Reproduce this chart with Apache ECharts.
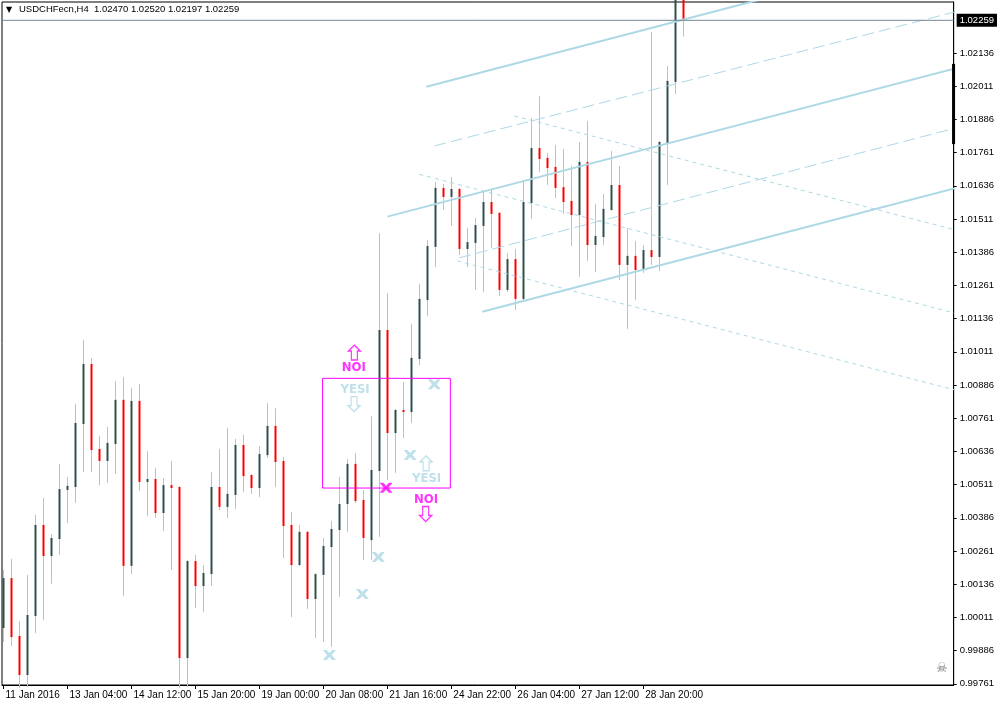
<!DOCTYPE html>
<html><head><meta charset="utf-8">
<script src="https://cdn.jsdelivr.net/npm/echarts@6/dist/echarts.min.js"></script>
<style>html,body{margin:0;padding:0;background:#fff}#c{width:997px;height:706px}</style>
</head><body><div id="c"></div>
<script>
const symbolName = 'USDCHFecn,H4';
const times = ['11 Jan 20:00','12 Jan 00:00','12 Jan 04:00','12 Jan 08:00','12 Jan 12:00','12 Jan 16:00','12 Jan 20:00','13 Jan 00:00',
'13 Jan 04:00','13 Jan 08:00','13 Jan 12:00','13 Jan 16:00','13 Jan 20:00','14 Jan 00:00','14 Jan 04:00','14 Jan 08:00',
'14 Jan 12:00','14 Jan 16:00','14 Jan 20:00','15 Jan 00:00','15 Jan 04:00','15 Jan 08:00','15 Jan 12:00','15 Jan 16:00',
'15 Jan 20:00','17 Jan 22:00','18 Jan 00:00','18 Jan 04:00','18 Jan 08:00','18 Jan 12:00','18 Jan 16:00','18 Jan 20:00',
'19 Jan 00:00','19 Jan 04:00','19 Jan 08:00','19 Jan 12:00','19 Jan 16:00','19 Jan 20:00','20 Jan 00:00','20 Jan 04:00',
'20 Jan 08:00','20 Jan 12:00','20 Jan 16:00','20 Jan 20:00','21 Jan 00:00','21 Jan 04:00','21 Jan 08:00','21 Jan 12:00',
'21 Jan 16:00','21 Jan 20:00','22 Jan 00:00','22 Jan 04:00','22 Jan 08:00','22 Jan 12:00','22 Jan 16:00','22 Jan 20:00',
'24 Jan 22:00','25 Jan 00:00','25 Jan 04:00','25 Jan 08:00','25 Jan 12:00','25 Jan 16:00','25 Jan 20:00','26 Jan 00:00',
'26 Jan 04:00','26 Jan 08:00','26 Jan 12:00','26 Jan 16:00','26 Jan 20:00','27 Jan 00:00','27 Jan 04:00','27 Jan 08:00',
'27 Jan 12:00','27 Jan 16:00','27 Jan 20:00','28 Jan 00:00','28 Jan 04:00','28 Jan 08:00','28 Jan 12:00','28 Jan 16:00',
'28 Jan 20:00','29 Jan 00:00','29 Jan 04:00','29 Jan 08:00','29 Jan 12:00','29 Jan 16:00'];
const open  = [0.99971,1.00159,0.99941,0.99794,1.00016,1.00359,1.00242,1.00306,1.00491,1.00502,1.00739,1.00965,1.00645,1.00600,1.00664,1.00830,
1.00205,1.00826,1.00521,1.00532,1.00404,1.00509,1.00502,0.99858,1.00223,1.00129,1.00174,1.00502,1.00427,1.00472,1.00660,1.00547,
1.00498,1.00622,1.00732,1.00600,1.00359,1.00208,1.00333,1.00080,1.00171,1.00276,1.00340,1.00438,1.00589,1.00453,1.00302,1.00562,
1.01093,1.00705,1.00792,1.00784,1.00984,1.01206,1.01406,1.01628,1.01594,1.01624,1.01398,1.01421,1.01485,1.01575,1.01534,1.01244,
1.01360,1.01210,1.01571,1.01778,1.01741,1.01707,1.01631,1.01579,1.01526,1.01726,1.01413,1.01443,1.01545,1.01639,1.01338,1.01372,
1.01319,1.01394,1.01368,1.01797,1.02027,1.02470];
const high  = [1.00189,1.00231,0.99997,1.00171,1.00397,1.00461,1.00325,1.00589,1.00540,1.00814,1.01055,1.00988,1.00694,1.00728,1.00901,1.00916,
1.00875,1.00890,1.00637,1.00573,1.00536,1.00600,1.00506,1.00227,1.00246,1.00208,1.00558,1.00645,1.00724,1.00683,1.00698,1.00550,
1.00656,1.00818,1.00799,1.00615,1.00408,1.00359,1.00336,1.00178,1.00310,1.00374,1.00540,1.00607,1.00630,1.00491,1.00769,1.01458,
1.01232,1.00795,1.00897,1.01116,1.01266,1.01432,1.01650,1.01643,1.01669,1.01628,1.01477,1.01515,1.01613,1.01624,1.01537,1.01383,
1.01398,1.01658,1.01891,1.01974,1.01759,1.01790,1.01775,1.01711,1.01801,1.01880,1.01567,1.01605,1.01767,1.01711,1.01477,1.01428,
1.01413,1.02215,1.01805,1.02087,1.02475,1.02520];
const low   = [0.99918,0.99903,0.99745,0.99748,0.99952,1.00001,1.00137,1.00246,1.00366,1.00442,1.00558,1.00558,1.00509,1.00517,1.00551,1.00092,
1.00174,1.00487,1.00393,1.00385,1.00336,1.00189,0.99745,0.99748,1.00046,1.00031,1.00129,1.00415,1.00385,1.00419,1.00483,1.00476,
1.00464,1.00611,1.00502,1.00235,1.00012,1.00205,1.00043,0.99933,0.99918,0.99900,1.00088,1.00333,1.00442,1.00227,1.00227,1.00314,
1.00528,1.00555,1.00686,1.00743,1.00961,1.01146,1.01330,1.01545,1.01485,1.01375,1.01330,1.01244,1.01236,1.01402,1.01221,1.01236,
1.01168,1.01202,1.01511,1.01688,1.01639,1.01590,1.01530,1.01409,1.01293,1.01353,1.01311,1.01413,1.01541,1.01281,1.01097,1.01206,
1.01308,1.01338,1.01315,1.01639,1.01982,1.02197];
const close = [1.00159,0.99937,0.99794,1.00020,1.00359,1.00242,1.00310,1.00494,1.00506,1.00743,1.00965,1.00641,1.00600,1.00668,1.00830,1.00205,
1.00826,1.00521,1.00532,1.00404,1.00509,1.00498,0.99858,1.00223,1.00129,1.00178,1.00502,1.00427,1.00476,1.00660,1.00543,1.00498,
1.00626,1.00732,1.00596,1.00355,1.00208,1.00333,1.00080,1.00174,1.00280,1.00344,1.00438,1.00589,1.00449,1.00310,1.00566,1.01093,
1.00705,1.00792,1.00784,1.00988,1.01210,1.01409,1.01628,1.01594,1.01624,1.01398,1.01424,1.01488,1.01575,1.01530,1.01244,1.01360,
1.01210,1.01575,1.01778,1.01737,1.01703,1.01628,1.01575,1.01526,1.01726,1.01413,1.01447,1.01549,1.01639,1.01338,1.01372,1.01319,
1.01394,1.01368,1.01801,1.02031,1.02470,1.02259];

const xTickIdx = [0,8,16,24,32,40,48,56,64,72,80];
const xTickLabels = ['11 Jan 2016','13 Jan 04:00','14 Jan 12:00','15 Jan 20:00','19 Jan 00:00','20 Jan 08:00','21 Jan 16:00','24 Jan 22:00','26 Jan 04:00','27 Jan 12:00','28 Jan 20:00'];
const yTicks = [0.99761,0.99886,1.00011,1.00136,1.00261,1.00386,1.00511,1.00636,1.00761,1.00886,1.01011,1.01136,1.01261,1.01386,1.01511,1.01636,1.01761,1.01886,1.02011,1.02136];
const bidPrice = 1.02259;

// trend objects in (bar index, price)
const channelSolid  = [[52.875,1.02009,119,1.02529],[48,1.01520,119,1.02078],[59.875,1.01162,119,1.01627]];
const channelDashed = [[53.875,1.01786,119,1.02291],[57,1.01365,119,1.01853]];
const fanDotted     = [[63.875,1.01899,119,1.01470],[52,1.01679,119,1.01156],[56.75,1.01353,119,1.00867]];
const zoneBox = [39.9,1.00911,55.875,1.00498];
const crossBlue = [[40.75,0.99869],[44.875,1.00099],[46.875,1.00238],[50.85,1.00622],[53.875,1.00889]];
const crossMagenta = [[47.84,1.00499]];
const arrowUpMagenta = [[43.875,1.01008]];
const arrowDownMagenta = [[52.79,1.00400]];
const arrowUpBlue = [[52.84,1.00591]];
const arrowDownBlue = [[43.84,1.00814]];
const textMagenta = [[43.81,1.00951,'NOI'],[52.84,1.00453,'NOI']];
const textBlue = [[43.96,1.00869,'YESI'],[52.9,1.00535,'YESI']];
const rangeBar = [118.8,1.02095,1.01793];

const X_MIN = -0.1875, X_MAX = 118.8125;
const MAG = '#FF00FF', LB = '#ADD8E6', FONT = '"Liberation Sans", Arial, sans-serif';
const NARROW = '"Liberation Sans Narrow", "DejaVu Sans Condensed", "Liberation Sans", sans-serif';
const crossPath = 'path://M0,0 L4,0 L7,3 L10,0 L14,0 L9.5,5 L14,10 L10,10 L7,7 L4,10 L0,10 L4.5,5 Z';
const upPath = 'path://M6,0 L12,6 L9,6 L9,15 L3,15 L3,6 L0,6 Z';
const downPath = 'path://M3,0 L9,0 L9,9 L12,9 L6,15 L0,9 L3,9 Z';

const wickData = times.map((t,i)=>[i, open[i], close[i], low[i], high[i]]);
const bodyData = times.map((t,i)=>[i, open[i], close[i], Math.min(open[i],close[i]), Math.max(open[i],close[i])]);

function seg(s, style){ return {type:'line', silent:true, symbol:'none', z:4, lineStyle:style,
  data:[[s[0],s[1]],[s[2],s[3]]]}; }

const series = [
  {type:'candlestick', silent:true, data:wickData, barWidth:1, z:2,
   itemStyle:{color:'#C0C0C0',color0:'#C0C0C0',borderColor:'#C0C0C0',borderColor0:'#C0C0C0',borderWidth:1}},
  {type:'candlestick', silent:true, data:bodyData, barWidth:3, z:3,
   itemStyle:{color:'#2F4F4F',color0:'#FF0000',borderColor:'#2F4F4F',borderColor0:'#FF0000',borderWidth:0}}
];
channelSolid.forEach(s=>series.push(seg(s,{color:LB,width:2})));
channelDashed.forEach(s=>series.push(seg(s,{color:LB,width:1,type:[12,5]})));
fanDotted.forEach(s=>series.push(seg(s,{color:LB,width:1,type:[4,4]})));
// bid price line with price box
series.push({type:'line', silent:true, symbol:'none', z:5, clip:false,
  lineStyle:{color:'#778899',width:1},
  endLabel:{show:true, distance:3, formatter:()=>bidPrice.toFixed(5), color:'#fff', backgroundColor:'#000',
    padding:[2,3,1,3], fontSize:9.5, fontFamily:FONT},
  data:[[X_MIN,bidPrice],[X_MAX,bidPrice]]});
series.push({type:'line', silent:true, symbol:'none', z:5, lineStyle:{color:MAG,width:1},
  data:[[zoneBox[0],zoneBox[1]],[zoneBox[2],zoneBox[1]],[zoneBox[2],zoneBox[3]],[zoneBox[0],zoneBox[3]],[zoneBox[0],zoneBox[1]]]});
series.push({type:'line', silent:true, symbol:'none', z:6, clip:false, lineStyle:{color:'#000',width:3},
  data:[[rangeBar[0],rangeBar[1]],[rangeBar[0],rangeBar[2]]]});
function marks(pts, sym, size, style){ return {type:'scatter', silent:true, z:7, symbol:sym, symbolSize:size, itemStyle:style, data:pts}; }
series.push(marks(crossBlue, crossPath, [13,10], {color:LB}));
series.push(marks(crossMagenta, crossPath, [13,10], {color:MAG}));
series.push(marks(arrowUpMagenta, upPath, [12,15], {color:'rgba(0,0,0,0)', borderColor:MAG, borderWidth:1.3}));
series.push(marks(arrowDownMagenta, downPath, [12,15], {color:'rgba(0,0,0,0)', borderColor:MAG, borderWidth:1.3}));
series.push(marks(arrowUpBlue, upPath, [12,15], {color:'rgba(0,0,0,0)', borderColor:LB, borderWidth:1.3}));
series.push(marks(arrowDownBlue, downPath, [12,15], {color:'rgba(0,0,0,0)', borderColor:LB, borderWidth:1.3}));
function texts(pts, color){ return {type:'scatter', silent:true, z:8, symbol:'circle', symbolSize:1,
  itemStyle:{color:'rgba(0,0,0,0)'},
  label:{show:true, position:'inside', formatter:'{b}', color:color, fontWeight:'bold', fontSize:13, fontFamily:NARROW},
  data:pts.map(p=>({value:[p[0],p[1]], name:p[2]}))}; }
series.push(texts(textMagenta, MAG));
series.push(texts(textBlue, LB));

const chart = echarts.init(document.getElementById('c'), null, {renderer:'canvas'});
const f5 = v => v.toFixed(5);
chart.setOption({
  animation:false,
  backgroundColor:'#fff',
  grid:{left:2, top:2, width:952, height:683, show:true, borderColor:'#000', borderWidth:1, backgroundColor:'#fff'},
  xAxis:{type:'value', min:X_MIN, max:X_MAX, position:'bottom',
    axisLine:{show:true, onZero:false, lineStyle:{color:'#000',width:1}},
    axisTick:{show:true, customValues:xTickIdx, length:4, lineStyle:{color:'#000'}},
    axisLabel:{customValues:xTickIdx, formatter:v=>{const k=xTickIdx.indexOf(Math.round(v)); return k>=0?xTickLabels[k]:'';},
      align:'left', margin:5, fontSize:10, color:'#000', fontFamily:FONT, padding:[0,0,0,2]},
    splitLine:{show:false}},
  yAxis:{type:'value', position:'right', min:0.997564, max:1.02328, scale:true,
    axisLine:{show:true, onZero:false, lineStyle:{color:'#000',width:1}},
    axisTick:{show:true, customValues:yTicks, length:3, lineStyle:{color:'#000'}},
    axisLabel:{customValues:yTicks, formatter:v=>f5(v), margin:6, fontSize:9.5, color:'#000', fontFamily:FONT},
    splitLine:{show:false}},
  graphic:[
    {type:'text', left:6, top:6, style:{text:'▼', fill:'#000', font:'8px "DejaVu Sans"'}},
    {type:'text', left:19, top:4, style:{text:symbolName+'  '+[open[85],high[85],low[85],close[85]].map(f5).join(' '),
      fill:'#000', font:'9.5px "Liberation Sans"'}},
    {type:'text', left:936, top:662, style:{text:'☠', fill:'#777', font:'13px "DejaVu Sans"'}}
  ],
  series:series
});
</script></body></html>
